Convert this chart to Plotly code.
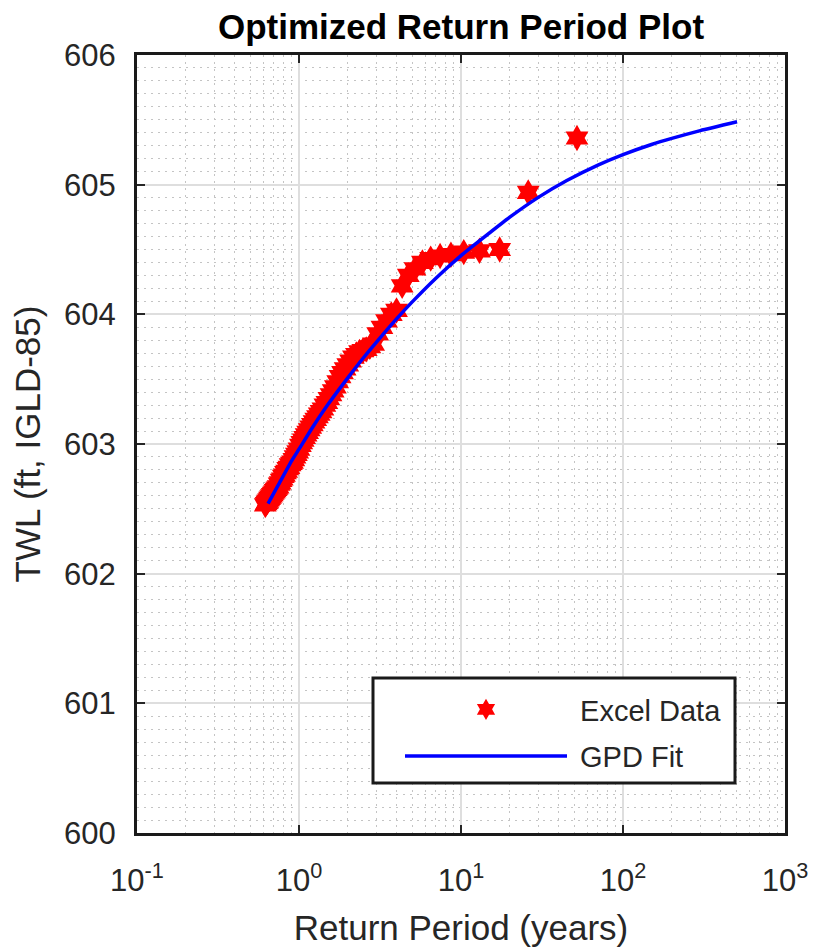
import plotly.graph_objects as go

# ---- data ----
return_period = [52.0, 26.0, 17.33, 13.0, 10.4, 8.667, 7.429, 6.5, 5.778, 5.2,
                 4.727, 4.333, 4.0, 3.714, 3.467, 3.25, 3.059, 2.889, 2.737, 2.6,
                 2.476, 2.364, 2.261, 2.167, 2.08, 2.0, 1.926, 1.857, 1.793, 1.733,
                 1.677, 1.625, 1.576, 1.529, 1.486, 1.444, 1.405, 1.368, 1.333, 1.3,
                 1.268, 1.238, 1.209, 1.182, 1.156, 1.130, 1.106, 1.083, 1.061, 1.04,
                 1.020, 1.0, 0.981, 0.963, 0.945, 0.929, 0.912, 0.897, 0.881, 0.867,
                 0.852, 0.839, 0.825, 0.813, 0.8, 0.788, 0.776, 0.765, 0.754, 0.743,
                 0.732, 0.722, 0.712, 0.703, 0.693, 0.684, 0.675, 0.667, 0.658, 0.65,
                 0.642, 0.634, 0.627, 0.619]
twl = [605.36, 604.94, 604.50, 604.49, 604.48, 604.46, 604.45, 604.43, 604.40, 604.35,
       604.30, 604.22, 604.03, 604.00, 603.95, 603.90, 603.85, 603.77, 603.75, 603.73,
       603.72, 603.71, 603.69, 603.67, 603.64, 603.61, 603.58, 603.55, 603.52, 603.48,
       603.44, 603.41, 603.38, 603.35, 603.32, 603.30, 603.27, 603.25, 603.23, 603.21,
       603.19, 603.17, 603.15, 603.13, 603.11, 603.09, 603.07, 603.05, 603.03, 603.01,
       602.99, 602.96, 602.94, 602.92, 602.90, 602.88, 602.86, 602.85, 602.84, 602.82,
       602.81, 602.79, 602.78, 602.76, 602.75, 602.73, 602.72, 602.70, 602.69, 602.67,
       602.66, 602.65, 602.64, 602.63, 602.62, 602.61, 602.60, 602.59, 602.58, 602.57,
       602.56, 602.55, 602.54, 602.53]

fit_period = [0.644, 0.75, 0.9, 1.0, 1.2, 1.5, 2.0, 2.5, 3.0, 4.0, 5.0, 7.0, 10.0,
              13.1, 20.0, 30.0, 45.0, 70.0, 100.0, 150.0, 200.0, 300.0, 506.0]
fit_twl = [602.54, 602.69, 602.87, 602.96, 603.12, 603.30, 603.51, 603.665, 603.784,
           603.965, 604.096, 604.279, 604.453, 604.57, 604.749, 604.902, 605.032,
           605.151, 605.232, 605.31, 605.357, 605.417, 605.485]

x_tick_vals = [0.1, 1, 10, 100, 1000]
x_tick_text = ["10<sup>-1</sup>", "10<sup>0</sup>", "10<sup>1</sup>", "10<sup>2</sup>", "10<sup>3</sup>"]
y_tick_vals = [600, 601, 602, 603, 604, 605, 606]

x_minor = [m * 10 ** e for e in (-1, 0, 1, 2) for m in range(2, 10)]
y_minor = [600 + i / 10 for i in range(61) if i % 10 != 0]

FONT = "Liberation Sans, Arial, Helvetica, sans-serif"
AX = "#262626"
ML, MR, MT, MB = 137, 31, 55, 114
PW, PH = 816 - ML - MR, 947 - MT - MB


def px_x(p):
    return (p - ML) / PW


def px_y(p):
    return (947 - MB - p) / PH


fig = go.Figure()
fig.add_trace(go.Scatter(
    x=return_period, y=twl, mode="markers", name="\u00a0Excel Data",
    legendgroup="a",
    marker=dict(symbol="hexagram", size=20, color="#ff0000", line=dict(width=0)),
))
fig.add_trace(go.Scatter(
    x=fit_period, y=fit_twl, mode="lines", name="\u00a0GPD Fit",
    legendgroup="b",
    line=dict(color="#0000ff", width=3.5, shape="spline", smoothing=0.5),
))

# legend frame (MATLAB style box)
fig.add_shape(type="rect", xref="paper", yref="paper",
              x0=px_x(373), x1=px_x(735), y0=px_y(783), y1=px_y(678),
              fillcolor="white", line=dict(color="#1a1a1a", width=3), layer="above")

fig.update_layout(
    width=816, height=947,
    margin=dict(l=ML, r=MR, t=MT, b=MB, autoexpand=False),
    paper_bgcolor="white", plot_bgcolor="white",
    font=dict(family=FONT, color=AX, size=31),
    title=dict(text="<b>Optimized Return Period Plot</b>", x=0.5, xref="paper",
               xanchor="center", y=1 - 27 / 947, yanchor="middle",
               font=dict(size=35, color="#000000", family=FONT)),
    showlegend=True,
    legend=dict(x=px_x(400), y=px_y(684), xanchor="left", yanchor="top",
                bgcolor="rgba(0,0,0,0)", borderwidth=0,
                font=dict(size=29, color=AX, family=FONT),
                itemwidth=162, tracegroupgap=6, traceorder="grouped"),
)

fig.update_xaxes(
    type="log", range=[-1, 3], automargin=False,
    tickvals=x_tick_vals, ticktext=x_tick_text,
    ticks="inside", ticklen=8, tickwidth=2, tickcolor=AX,
    ticklabelstandoff=18,
    showline=True, linecolor="#1a1a1a", linewidth=3, mirror="ticks",
    showgrid=True, gridcolor="#dedede", gridwidth=2,
    zeroline=False,
    minor=dict(tickvals=x_minor, showgrid=True, gridcolor="#c4c4c4",
               griddash="2px,5px", gridwidth=1, ticks=""),
    title=dict(text="Return Period (years)", font=dict(size=35, color=AX), standoff=22),
    tickfont=dict(size=31, color=AX),
)
fig.update_yaxes(
    range=[600, 606], automargin=False, tickvals=y_tick_vals,
    ticks="inside", ticklen=8, tickwidth=2, tickcolor=AX,
    ticklabelstandoff=12,
    showline=True, linecolor="#1a1a1a", linewidth=3, mirror="ticks",
    showgrid=True, gridcolor="#dedede", gridwidth=2,
    zeroline=False,
    minor=dict(tickvals=y_minor, showgrid=True, gridcolor="#c4c4c4",
               griddash="2px,5px", gridwidth=1, ticks=""),
    title=dict(text="TWL (ft, IGLD-85)", font=dict(size=35, color=AX), standoff=13),
    tickfont=dict(size=31, color=AX),
)

fig.write_html("out.html", config={"displayModeBar": False},
               post_script="document.body.style.margin='0px';")
